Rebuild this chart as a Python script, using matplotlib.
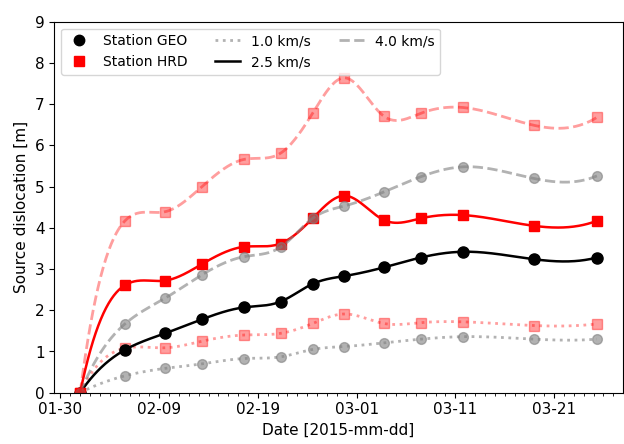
import numpy as np
import pandas as pd
import matplotlib
matplotlib.use('Agg')
import matplotlib.pyplot as plt
import matplotlib.dates as mdates
from matplotlib.lines import Line2D

# observation times
dates = pd.to_datetime([
    '2015-02-01 00:00', '2015-02-05 13:00', '2015-02-09 14:00', '2015-02-13 08:00',
    '2015-02-17 14:00', '2015-02-21 07:00', '2015-02-24 13:00', '2015-02-27 18:00',
    '2015-03-03 18:00', '2015-03-07 12:00', '2015-03-11 18:00', '2015-03-18 22:00',
    '2015-03-25 08:00',
])

# source dislocation [m] per station and rupture velocity
geo_10 = [0, 0.41, 0.59, 0.70, 0.83, 0.87, 1.05, 1.12, 1.21, 1.30, 1.36, 1.30, 1.30]
geo_25 = [0, 1.04, 1.44, 1.78, 2.07, 2.21, 2.64, 2.83, 3.04, 3.28, 3.42, 3.24, 3.28]
geo_40 = [0, 1.67, 2.29, 2.86, 3.30, 3.53, 4.23, 4.53, 4.87, 5.24, 5.48, 5.20, 5.26]
hrd_10 = [0, 1.08, 1.09, 1.25, 1.40, 1.44, 1.68, 1.91, 1.68, 1.70, 1.72, 1.63, 1.67]
hrd_25 = [0, 2.61, 2.72, 3.12, 3.54, 3.62, 4.23, 4.78, 4.19, 4.23, 4.31, 4.05, 4.17]
hrd_40 = [0, 4.17, 4.39, 5.00, 5.66, 5.81, 6.78, 7.64, 6.71, 6.78, 6.92, 6.49, 6.68]

velocities = ['1.0 km/s', '2.5 km/s', '4.0 km/s']
linestyles = [':', '-', '--']


def smooth(x, y, n=600):
    """cubic spline with not-a-knot ends, just for drawing the line"""
    x = np.asarray(x, float)
    y = np.asarray(y, float)
    h = np.diff(x)
    m = len(x)
    A = np.zeros((m, m))
    r = np.zeros(m)
    for i in range(1, m - 1):
        A[i, i - 1] = h[i - 1]
        A[i, i] = 2 * (h[i - 1] + h[i])
        A[i, i + 1] = h[i]
        r[i] = 6 * ((y[i + 1] - y[i]) / h[i] - (y[i] - y[i - 1]) / h[i - 1])
    A[0, 0] = -1 / h[0]; A[0, 1] = 1 / h[0] + 1 / h[1]; A[0, 2] = -1 / h[1]
    A[-1, -1] = -1 / h[-1]; A[-1, -2] = 1 / h[-1] + 1 / h[-2]; A[-1, -3] = -1 / h[-2]
    M = np.linalg.solve(A, r)
    xs = np.linspace(x[0], x[-1], n)
    idx = np.clip(np.searchsorted(x, xs) - 1, 0, m - 2)
    x0, x1, hi = x[idx], x[idx + 1], h[idx]
    ys = (M[idx] * (x1 - xs) ** 3 / (6 * hi) + M[idx + 1] * (xs - x0) ** 3 / (6 * hi)
          + (y[idx] / hi - M[idx] * hi / 6) * (x1 - xs)
          + (y[idx + 1] / hi - M[idx + 1] * hi / 6) * (xs - x0))
    return xs, ys


plt.rcParams['xtick.labelsize'] = 11
plt.rcParams['ytick.labelsize'] = 11
plt.rcParams['axes.labelsize'] = 11

fig, ax = plt.subplots(figsize=(6.24, 4.44), dpi=100)
fig.subplots_adjust(left=0.087, right=0.998, bottom=0.1155, top=0.951)

xnum = mdates.date2num(dates)

geo_series = [geo_10, geo_25, geo_40]
hrd_series = [hrd_10, hrd_25, hrd_40]
for k in range(3):
    ls = linestyles[k]
    faded = k != 1
    # GEO
    xs, ys = smooth(xnum, geo_series[k])
    if faded:
        ax.plot(xs, ys, ls=ls, color='gray', alpha=0.6, lw=2)
        ax.plot(xnum, geo_series[k], 'o', color='gray', alpha=0.6, ms=7)
    else:
        ax.plot(xs, ys, ls=ls, color='black', lw=1.8)
        ax.plot(xnum, geo_series[k], 'o', color='black', ms=8)
    # HRD
    xs, ys = smooth(xnum, hrd_series[k])
    if faded:
        ax.plot(xs, ys, ls=ls, color='red', alpha=0.38, lw=2)
        ax.plot(xnum, hrd_series[k], 's', color='red', alpha=0.38, ms=7)
    else:
        ax.plot(xs, ys, ls=ls, color='red', lw=1.8)
        ax.plot(xnum, hrd_series[k], 's', color='red', ms=7.5)

ax.xaxis_date()
ax.set_xticks(mdates.date2num(pd.date_range('2015-01-30', periods=6, freq='10D')))
ax.xaxis.set_major_formatter(mdates.DateFormatter('%m-%d'))
ax.xaxis.set_minor_locator(mdates.DayLocator())
ax.set_ylim(0, 9)
ax.set_yticks(range(10))
ax.set_xlabel('Date [2015-mm-dd]')
ax.set_ylabel('Source dislocation [m]')

handles = [
    Line2D([], [], ls='none', marker='o', color='black', ms=7.5),
    Line2D([], [], ls='none', marker='s', color='red', ms=7),
    Line2D([], [], ls=':', color='gray', alpha=0.6, lw=2),
    Line2D([], [], ls='-', color='black', lw=1.8),
    Line2D([], [], ls='--', color='gray', alpha=0.6, lw=2),
]
labels = ['Station GEO', 'Station HRD'] + velocities
ax.legend(handles, labels, loc='upper left', ncol=3, fontsize=10, handlelength=1.8)

fig.savefig('out.png', dpi=100)
